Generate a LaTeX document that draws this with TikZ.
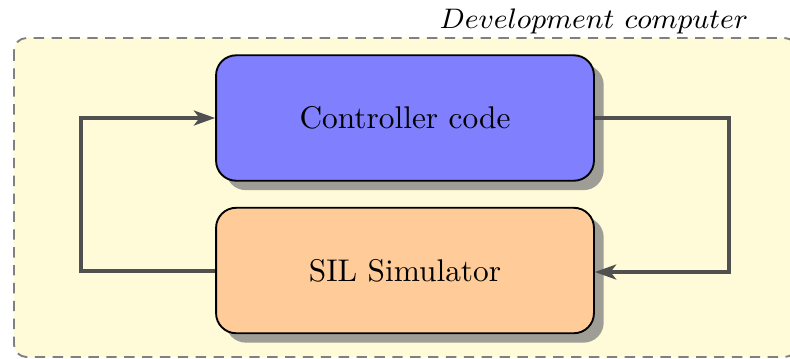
\documentclass[tikz,border=0pt]{standalone}
\usetikzlibrary{shadows,arrows.meta}
\definecolor{bgyellow}{RGB}{255,250,215}
\definecolor{shadowgray}{RGB}{158,157,150}
\definecolor{arrowgray}{RGB}{80,80,80}
\definecolor{boxblue}{RGB}{128,128,255}
\definecolor{boxorange}{RGB}{255,204,153}
\begin{document}
\begin{tikzpicture}[x=0.3189pt,y=-0.3189pt,
  block/.style={draw=black, line width=0.6pt, rounded corners=6.4pt,
    minimum width=120.5pt, minimum height=40pt, inner sep=0pt,
    drop shadow={shadow xshift=3.1pt, shadow yshift=-3pt, fill=shadowgray, opacity=1}},
  conn/.style={draw=arrowgray, line width=1pt, -{Stealth[length=6.8pt,width=4.8pt,inset=1.8pt]}},
  outer/.style={draw=gray, line width=0.6pt, dash pattern=on 3.3pt off 2.4pt, rounded corners=4pt, fill=bgyellow}]
\useasboundingbox (0,0) rectangle (790,358);
\draw[outer] (14,38) rectangle (797,357);
\node[anchor=base, font=\fontsize{9.5}{11}\selectfont, xscale=1.02] (title) at (594,28) {$Development\ computer$};
\node[block, fill=boxblue] (ctrl) at (405,118) {Controller code};
\node[block, fill=boxorange] (sil) at (405,270.5) {SIL Simulator};
\coordinate (r1) at (729,118);
\coordinate (r2) at (729,272);
\coordinate (l1) at (81,271);
\coordinate (l2) at (81,118);
\draw[conn] (ctrl.east) -- (r1) -- (r2) -- (sil.east |- r2);
\draw[conn] (sil.west |- l1) -- (l1) -- (l2) -- (ctrl.west);
\end{tikzpicture}
\end{document}
